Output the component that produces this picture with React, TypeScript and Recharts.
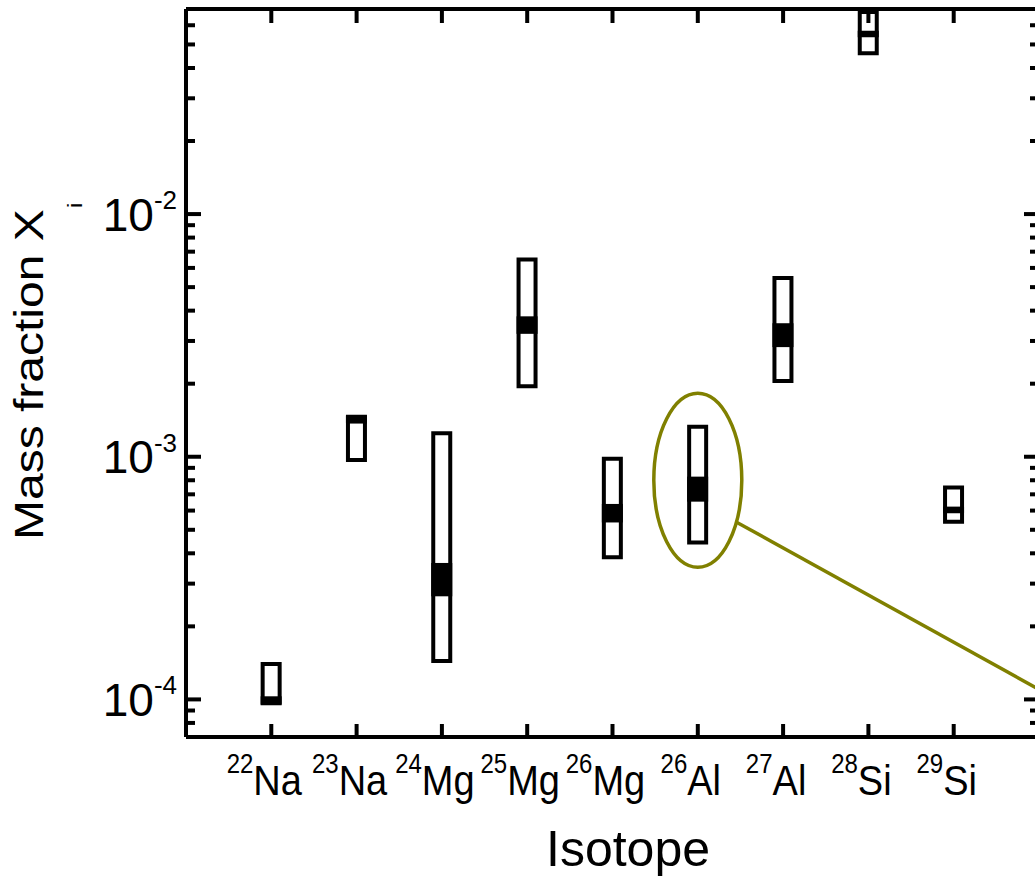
import React from "react";
import {
  Bar,
  ComposedChart,
  ReferenceDot,
  ReferenceLine,
  XAxis,
  YAxis,
} from "recharts";

// isotopes, left to right
const massNumbers = ["22", "23", "24", "25", "26", "26", "27", "28", "29"];
const elements = ["Na", "Na", "Mg", "Mg", "Mg", "Al", "Al", "Si", "Si"];
const positions = [1, 2, 3, 4, 5, 6, 7, 8, 9];

// open box: full range of mass fraction
const rangeLow = [9.7e-5, 9.7e-4, 1.44e-4, 1.95e-3, 3.85e-4, 4.43e-4, 2.05e-3, 4.6e-2, 5.4e-4];
const rangeHigh = [1.4e-4, 1.46e-3, 1.25e-3, 6.5e-3, 9.8e-4, 1.33e-3, 5.45e-3, 6.8e-2, 7.47e-4];

// filled band inside each box
const bandLow = [9.46e-5, 1.37e-3, 2.66e-4, 3.21e-3, 5.36e-4, 6.53e-4, 2.83e-3, 5.35e-2, 5.85e-4];
const bandHigh = [1.03e-4, 1.48e-3, 3.65e-4, 3.79e-3, 6.39e-4, 8.28e-4, 3.55e-3, 5.7e-2, 6.23e-4];

// log axis ticks (majors get a label)
const yTicks = [
  7e-5, 8e-5, 9e-5,
  1e-4, 2e-4, 3e-4, 4e-4, 5e-4, 6e-4, 7e-4, 8e-4, 9e-4,
  1e-3, 2e-3, 3e-3, 4e-3, 5e-3, 6e-3, 7e-3, 8e-3, 9e-3,
  1e-2, 2e-2, 3e-2, 4e-2, 5e-2, 6e-2, 7e-2,
];
const yDecades = [1e-4, 1e-3, 1e-2];
const decadeExponents = ["-4", "-3", "-2"];

// highlighted 26Al annotation
const highlightX = 6;
const highlightY = 8e-4;
const pointerStart = { x: 6.46, y: 5.36e-4 };
const pointerEnd = { x: 10, y: 1.1e-4 };

const data = positions.map((x, i) => ({
  x,
  box: [rangeLow[i], rangeHigh[i]],
  band: [bandLow[i], bandHigh[i]],
}));

const FONT = '"Liberation Sans", Arial, sans-serif';
const OLIVE = "#808000";
const LW = 4;

const decadeIndex = (v: number) =>
  yDecades.findIndex((d) => Math.abs(v / d - 1) < 1e-6);

function LeftTick({ x, y, payload }: any) {
  const idx = decadeIndex(payload.value);
  const major = idx >= 0;
  return (
    <g>
      <line x1={x} x2={x + (major ? 15 : 9)} y1={y} y2={y} stroke="#000" strokeWidth={LW} />
      {major && (
        <text x={x - 9} y={y + 16.5} textAnchor="end" fontSize={46} fontFamily={FONT} fill="#000">
          10
          <tspan fontSize={26} dy={-21.5}>
            {decadeExponents[idx]}
          </tspan>
        </text>
      )}
    </g>
  );
}

function RightTick({ x, y, payload }: any) {
  const major = decadeIndex(payload.value) >= 0;
  return <line x1={x} x2={x - (major ? 15 : 9)} y1={y} y2={y} stroke="#000" strokeWidth={LW} />;
}

function BottomTick({ x, y, payload }: any) {
  const i = positions.indexOf(payload.value);
  return (
    <g>
      <line x1={x} x2={x} y1={y} y2={y - 13} stroke="#000" strokeWidth={LW} />
      <g transform={`translate(${x - 7},${y + 58}) scale(1,1.14)`}>
        <text x={0} y={0} textAnchor="middle" fontFamily={FONT} fill="#000">
          <tspan fontSize={24} dy={-19}>
            {massNumbers[i]}
          </tspan>
          <tspan fontSize={38} dy={19}>
            {elements[i]}
          </tspan>
        </text>
      </g>
    </g>
  );
}

function TopTick({ x, y }: any) {
  return <line x1={x} x2={x} y1={y} y2={y + 14} stroke="#000" strokeWidth={LW} />;
}

export default function App() {
  return (
    <div
      style={{
        position: "fixed",
        left: 0,
        top: 0,
        width: 1035,
        height: 878,
        overflow: "hidden",
        background: "#fff",
      }}
    >
      <ComposedChart
        width={1045}
        height={878}
        data={data}
        margin={{ top: 8, right: 5, bottom: 0, left: 0 }}
      >
        <XAxis
          dataKey="x"
          type="number"
          domain={[0, 10]}
          ticks={positions}
          interval={0}
          height={141}
          tickSize={0}
          tickMargin={0}
          tick={<BottomTick />}
          axisLine={{ stroke: "#000", strokeWidth: LW }}
          tickLine={false}
        />
        <XAxis
          xAxisId="top"
          orientation="top"
          dataKey="x"
          type="number"
          domain={[0, 10]}
          ticks={positions}
          interval={0}
          height={1}
          tickSize={0}
          tickMargin={0}
          tick={<TopTick />}
          axisLine={{ stroke: "#000", strokeWidth: LW }}
          tickLine={false}
        />
        <YAxis
          type="number"
          scale="log"
          domain={[7e-5, 0.07]}
          allowDataOverflow
          ticks={yTicks}
          interval={0}
          width={186}
          tickSize={0}
          tickMargin={0}
          tick={<LeftTick />}
          axisLine={{ stroke: "#000", strokeWidth: LW }}
          tickLine={false}
        />
        <YAxis
          yAxisId="r"
          orientation="right"
          type="number"
          scale="log"
          domain={[7e-5, 0.07]}
          allowDataOverflow
          ticks={yTicks}
          interval={0}
          width={1}
          tickSize={0}
          tickMargin={0}
          tick={<RightTick />}
          axisLine={{ stroke: "#000", strokeWidth: LW }}
          tickLine={false}
        />
        <Bar
          dataKey="box"
          barSize={17}
          fill="#fff"
          stroke="#000"
          strokeWidth={LW}
          isAnimationActive={false}
        />
        <Bar
          dataKey="band"
          xAxisId="top"
          yAxisId="r"
          barSize={21}
          fill="#000"
          isAnimationActive={false}
        />
        <ReferenceDot
          x={highlightX}
          y={highlightY}
          ifOverflow="visible"
          shape={(p: any) => (
            <ellipse cx={p.cx} cy={p.cy} rx={44} ry={87} fill="none" stroke={OLIVE} strokeWidth={3.5} />
          )}
        />
        <ReferenceLine
          segment={[pointerStart, pointerEnd]}
          stroke={OLIVE}
          strokeWidth={3.5}
          ifOverflow="visible"
        />
        <text
          transform="translate(43,540) rotate(-90) scale(1.2,1)"
          fontFamily={FONT}
          fill="#000"
        >
          <tspan fontSize={40}>Mass fraction X</tspan>
          <tspan fontSize={20} dx={1} dy={39}>
            i
          </tspan>
        </text>
        <text x={628} y={866} textAnchor="middle" fontSize={50} fontFamily={FONT} fill="#000">
          Isotope
        </text>
      </ComposedChart>
    </div>
  );
}
